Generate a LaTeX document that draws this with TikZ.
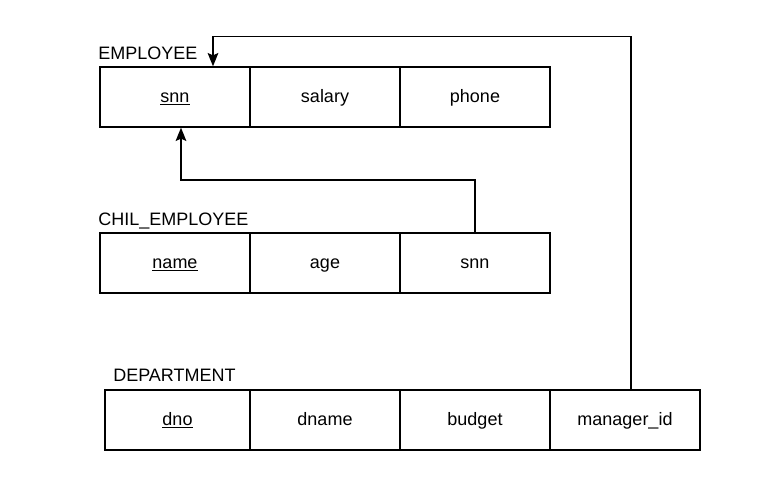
\documentclass[tikz,border=0pt]{standalone}
\usepackage{fontspec}
\setmainfont{Liberation Sans}
\usetikzlibrary{arrows.meta,calc}
\begin{document}
\begin{tikzpicture}[x=0.75pt,y=-0.75pt,
  cell/.style={draw=black, line width=1pt, minimum width=112.5pt, minimum height=45pt,
    inner sep=0pt, text height=10.5pt, text depth=2.5pt, font=\fontsize{13.5}{16}\selectfont},
  tabletitle/.style={anchor=base west, inner sep=0pt, font=\fontsize{13.5}{16}\selectfont},
  link/.style={draw=black, line width=1pt, -{Stealth[length=10pt,width=8pt,inset=1.8pt]}}]
\useasboundingbox (0,0) rectangle (776,499);

% EMPLOYEE
\node[tabletitle] (tEmp) at (98,60) {EMPLOYEE};
\node[cell] (e1) at (175,97) {\underline{snn}};
\node[cell] (e2) at (325,97) {salary};
\node[cell] (e3) at (475,97) {phone};

% CHIL_EMPLOYEE
\node[tabletitle] (tChil) at (98,226) {CHIL\_EMPLOYEE};
\node[cell] (c1) at (175,263) {\underline{name}};
\node[cell] (c2) at (325,263) {age};
\node[cell] (c3) at (475,263) {snn};

% DEPARTMENT
\node[tabletitle] (tDep) at (113,382) {DEPARTMENT};
\node[cell, minimum width=108.75pt] (d1) at (177.5,420) {\underline{dno}};
\node[cell] (d2) at (325,420) {dname};
\node[cell] (d3) at (475,420) {budget};
\node[cell] (d4) at (625,420) {manager\_id};

% foreign keys
\draw[link] (c3.north) -- ($(c3.north |- 0,180)$) -| ($(e1.south)+(6,0)$);
\draw[link] ($(d4.north)+(6,0)$) -- ($(d4.north)+(6,-353)$) -| ($(e1.north)+(38,0)$);
\end{tikzpicture}
\end{document}
